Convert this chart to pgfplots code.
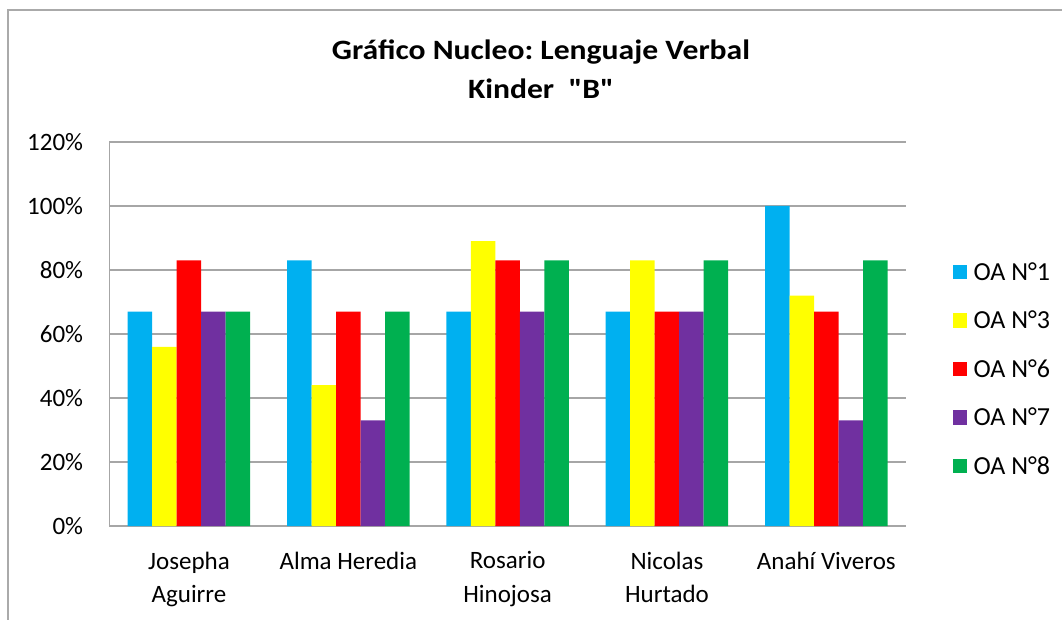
\documentclass[border=0pt]{standalone}
\usepackage{pgfplots}
\pgfplotsset{compat=1.18}
\usepackage{fontspec}
\setmainfont{Carlito}
\newfontfamily\titlefont[FakeStretch=1.13]{Carlito}
\definecolor{cBlue}{RGB}{0,176,240}
\definecolor{cYellow}{RGB}{255,255,0}
\definecolor{cRed}{RGB}{255,0,0}
\definecolor{cPurple}{RGB}{112,48,160}
\definecolor{cGreen}{RGB}{0,176,80}
\definecolor{cGrid}{RGB}{166,166,166}
\definecolor{cFrame}{RGB}{170,170,170}
\begin{document}
\frenchspacing
\begin{tikzpicture}[x=1pt,y=1pt]
\path[use as bounding box] (0,0) rectangle (1062,619);
\draw[cFrame, line width=2.2pt] (8,-2) -- (8,609) -- (1064,609);
\node[anchor=base, font=\titlefont\fontsize{28}{34}\selectfont\bfseries] at (541,559.7) {Gráfico Nucleo: Lenguaje Verbal};
\node[anchor=base, font=\titlefont\fontsize{28}{34}\selectfont\bfseries] at (541,520.7) {Kinder\ \ \symbol{34}B\symbol{34}};
\begin{axis}[
  at={(109.3pt,93pt)}, anchor=south west,
  scale only axis, width=796.7pt, height=384pt,
  ybar=0pt, bar width=24.5pt,
  xmin=-0.5, xmax=4.5, ymin=0, ymax=120,
  xtick={0,1,2,3,4},
  xticklabels={{Josepha\\Aguirre},{Alma Heredia},{Rosario\\Hinojosa},{Nicolas\\Hurtado},{Anahí Viveros}},
  xticklabel style={align=center, anchor=north, inner sep=0pt, yshift=-25.5pt, font=\fontsize{25}{33.7}\selectfont},
  ytick={0,20,40,60,80,100,120},
  yticklabel={\pgfmathprintnumber{\tick}\%},
  yticklabel style={anchor=east, inner sep=0pt, xshift=-26pt, font=\fontsize{25}{30}\selectfont},
  /pgf/number format/assume math mode=true,
  major tick length=0pt,
  ymajorgrids, grid style={cGrid, line width=1.5pt},
  axis x line*=bottom, axis y line*=left,
  axis line style={cGrid, line width=1.5pt, -},
  legend image code/.code={\fill[#1] (0pt,-7.25pt) rectangle (14.5pt,7.25pt);},
  legend style={at={(1.0544,0.4095)}, anchor=west, draw=none, fill=none,
    font=\fontsize{26}{30}\selectfont, column sep=6.5pt, row sep=31.5pt,
    nodes={inner sep=0pt, text height=17pt, text depth=0pt, anchor=west}},
  legend cell align=left,
]
\addplot[fill=cBlue, draw=none] coordinates {(0,67) (1,83) (2,67) (3,67) (4,100)};
\addplot[fill=cYellow, draw=none] coordinates {(0,56) (1,44) (2,89) (3,83) (4,72)};
\addplot[fill=cRed, draw=none] coordinates {(0,83) (1,67) (2,83) (3,67) (4,67)};
\addplot[fill=cPurple, draw=none] coordinates {(0,67) (1,33) (2,67) (3,67) (4,33)};
\addplot[fill=cGreen, draw=none] coordinates {(0,67) (1,67) (2,83) (3,83) (4,83)};
\legend{OA N°1, OA N°3, OA N°6, OA N°7, OA N°8}
\end{axis}
\end{tikzpicture}
\end{document}
